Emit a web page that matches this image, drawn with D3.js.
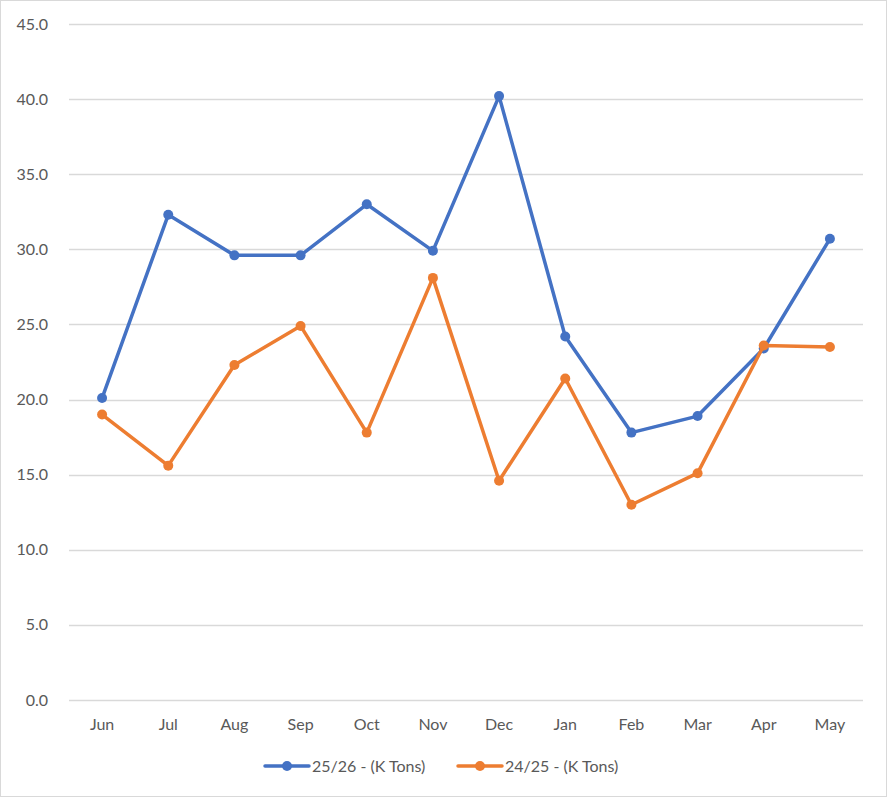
<!DOCTYPE html>
<html>
<head>
<meta charset="utf-8">
<script src="https://cdn.jsdelivr.net/npm/d3@7"></script>
<style>
  html, body { margin: 0; padding: 0; background: #fff; }
  svg text { font-family: Lato, "Open Sans", sans-serif; fill: #595959; }
</style>
</head>
<body>
<div id="chart"></div>
<script>
// Data
const months = ['Jun', 'Jul', 'Aug', 'Sep', 'Oct', 'Nov', 'Dec', 'Jan', 'Feb', 'Mar', 'Apr', 'May'];
const season2526 = [20.1, 32.3, 29.6, 29.6, 33.0, 29.9, 40.2, 24.2, 17.8, 18.9, 23.4, 30.7];
const season2425 = [19.0, 15.6, 22.3, 24.9, 17.8, 28.1, 14.6, 21.4, 13.0, 15.1, 23.6, 23.5];
const yTicks = [0, 5, 10, 15, 20, 25, 30, 35, 40, 45];
const seriesNames = ['25/26 - (K Tons)', '24/25 - (K Tons)'];

const width = 887;
const height = 797;
const margin = { top: 24, right: 24, bottom: 97, left: 69 };

const series = [
    { name: seriesNames[0], values: season2526, color: '#4472C4' },
    { name: seriesNames[1], values: season2425, color: '#ED7D31' }
];

const svg = d3.select('#chart')
    .append('svg')
    .attr('width', width)
    .attr('height', height);

// Chart border
svg.append('rect')
    .attr('x', 0.5).attr('y', 0.5)
    .attr('width', width - 1).attr('height', height - 1)
    .attr('fill', '#fff')
    .attr('stroke', '#d9d9d9');

const x = d3.scaleBand()
    .domain(months)
    .range([margin.left, width - margin.right]);

const y = d3.scaleLinear()
    .domain([0, 45])
    .range([height - margin.bottom, margin.top]);

// Gridlines
svg.append('g')
    .selectAll('line')
    .data(yTicks)
    .enter()
    .append('line')
    .attr('x1', margin.left)
    .attr('x2', width - margin.right)
    .attr('y1', d => Math.round(y(d)) + 0.5)
    .attr('y2', d => Math.round(y(d)) + 0.5)
    .attr('stroke', '#d9d9d9')
    .attr('stroke-width', 1.3);

// Y labels
svg.append('g')
    .selectAll('text')
    .data(yTicks)
    .enter()
    .append('text')
    .attr('x', 48)
    .attr('y', d => y(d))
    .attr('dy', '0.35em')
    .attr('text-anchor', 'end')
    .attr('font-size', '16px')
    .text(d => d3.format('.1f')(d));

// X labels
svg.append('g')
    .selectAll('text')
    .data(months)
    .enter()
    .append('text')
    .attr('x', d => x(d) + x.bandwidth() / 2)
    .attr('y', height - margin.bottom + 24)
    .attr('dy', '0.35em')
    .attr('text-anchor', 'middle')
    .attr('font-size', '16px')
    .text(d => d);

const line = d3.line()
    .x((d, i) => x(months[i]) + x.bandwidth() / 2)
    .y(d => y(d));

// Lines and markers
series.forEach(s => {
    const g = svg.append('g');
    g.append('path')
        .datum(s.values)
        .attr('d', line)
        .attr('fill', 'none')
        .attr('stroke', s.color)
        .attr('stroke-width', 3.5)
        .attr('stroke-linejoin', 'round')
        .attr('stroke-linecap', 'round');
    g.selectAll('circle')
        .data(s.values)
        .enter()
        .append('circle')
        .attr('cx', (d, i) => x(months[i]) + x.bandwidth() / 2)
        .attr('cy', d => y(d))
        .attr('r', 5)
        .attr('fill', s.color);
});

// Legend
const legendY = 766;
const legendX = [265, 458];
series.forEach((s, i) => {
    const lg = svg.append('g').attr('transform', `translate(${legendX[i]},${legendY})`);
    lg.append('line')
        .attr('x1', 0).attr('x2', 44)
        .attr('y1', 0).attr('y2', 0)
        .attr('stroke', s.color)
        .attr('stroke-width', 3.5)
        .attr('stroke-linecap', 'round');
    lg.append('circle')
        .attr('cx', 22).attr('cy', 0)
        .attr('r', 5)
        .attr('fill', s.color);
    lg.append('text')
        .attr('x', 47)
        .attr('y', 0)
        .attr('dy', '0.35em')
        .attr('font-size', '16px')
        .text(s.name);
});
</script>
</body>
</html>
